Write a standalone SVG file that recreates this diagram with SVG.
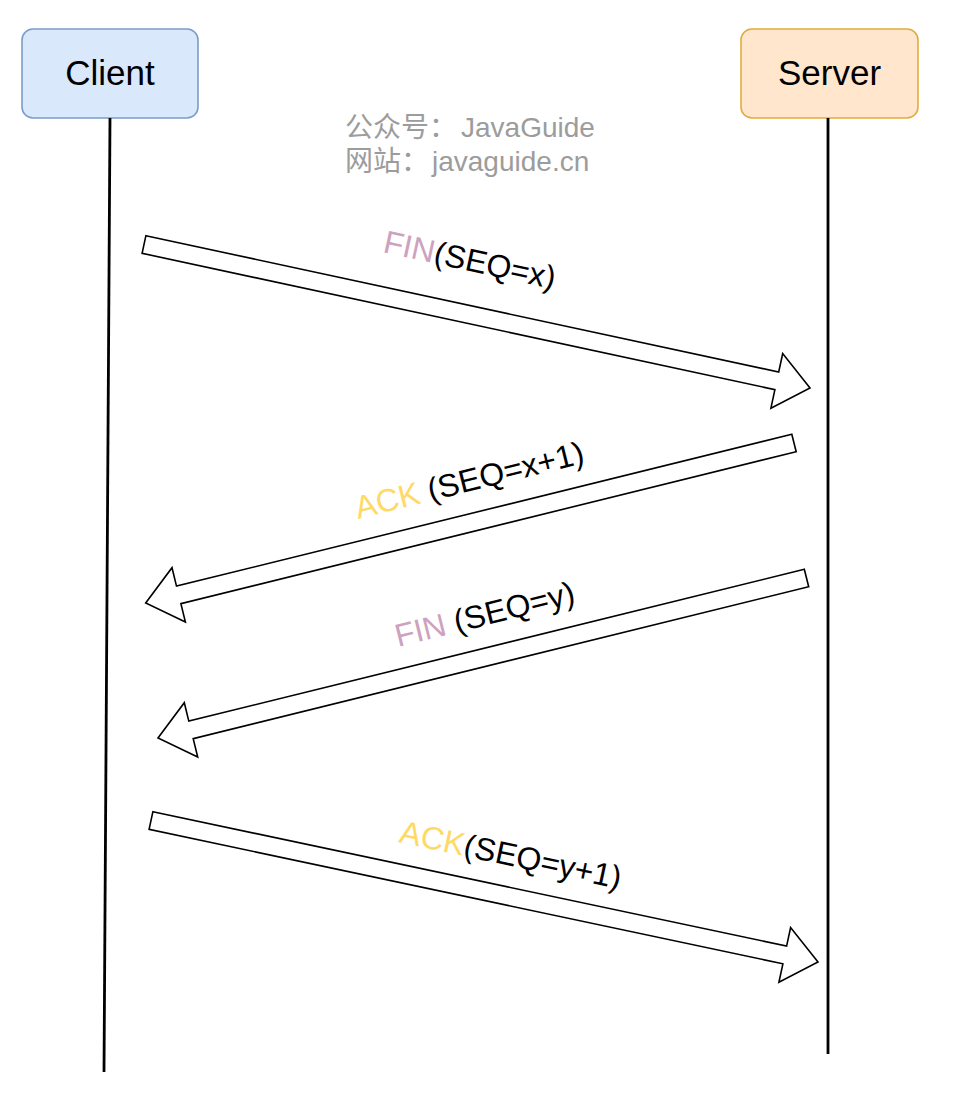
<svg xmlns="http://www.w3.org/2000/svg" width="959" height="1098" viewBox="0 0 959 1098">
<style>
.box-text{font-family:"Liberation Sans",Arial,sans-serif;font-size:35px;fill:#000;text-anchor:middle}
.lbl{font-family:"Liberation Sans",Arial,sans-serif;font-size:32px;fill:#000}
.fin{fill:#CDA2BE}
.ack{fill:#FFD966}
.wm{font-family:"Liberation Sans","Noto Sans CJK SC",sans-serif;font-size:28px;fill:#9c9c9c}
.arrow{fill:#fff;stroke:#000;stroke-width:1.6;stroke-linejoin:miter}
.life{stroke:#000;stroke-width:2.8;fill:none}
</style>
<rect width="959" height="1098" fill="#fff"/>
<g id="client">
<rect x="22" y="29" width="176" height="89" rx="11" fill="#dae8fc" stroke="#7b9cc8" stroke-width="1.6"/>
<text class="box-text" x="110" y="85">Client</text>
</g>
<g id="server">
<rect x="741" y="29" width="177" height="89" rx="11" fill="#ffe6cc" stroke="#e0ad3c" stroke-width="1.6"/>
<text class="box-text" x="829.5" y="85">Server</text>
</g>
<g id="watermark">
<text class="wm" y="137"><tspan x="345">公众号：</tspan><tspan x="461">JavaGuide</tspan></text>
<text class="wm" y="171"><tspan x="345">网站：</tspan><tspan x="432">javaguide.cn</tspan></text>
</g>
<g id="connectors">
<line class="life" x1="110" y1="118" x2="104" y2="1072"/>
<line class="life" x1="828" y1="118" x2="828" y2="1054"/>
<polygon class="arrow" points="145.9,235.7 778.7,372.0 782.7,353.5 810,388 770.9,408.2 774.9,389.6 142.1,253.3"/>
<polygon class="arrow" points="791.8,434.3 176.5,586.1 172.0,567.7 145.7,603 185.4,622.0 180.9,603.6 796.2,451.7"/>
<polygon class="arrow" points="804.3,569.3 188.8,721.1 184.3,702.7 158,738 197.7,757.0 193.2,738.6 808.7,586.7"/>
<polygon class="arrow" points="152.9,811.7 786.6,946.1 790.6,927.6 818,962 778.9,982.3 782.9,963.8 149.1,829.3"/>
</g>
<g id="labels">
<text class="lbl" transform="translate(382,252) rotate(12.2)"><tspan class="fin">FIN</tspan>(SEQ=x)</text>
<text class="lbl" transform="translate(358,519) rotate(-13.9)"><tspan class="ack">ACK</tspan> (SEQ=x+1)</text>
<text class="lbl" transform="translate(398,647) rotate(-13.9)"><tspan class="fin">FIN</tspan> (SEQ=y)</text>
<text class="lbl" transform="translate(398,842) rotate(12)"><tspan class="ack">ACK</tspan>(SEQ=y+1)</text>
</g>
</svg>
